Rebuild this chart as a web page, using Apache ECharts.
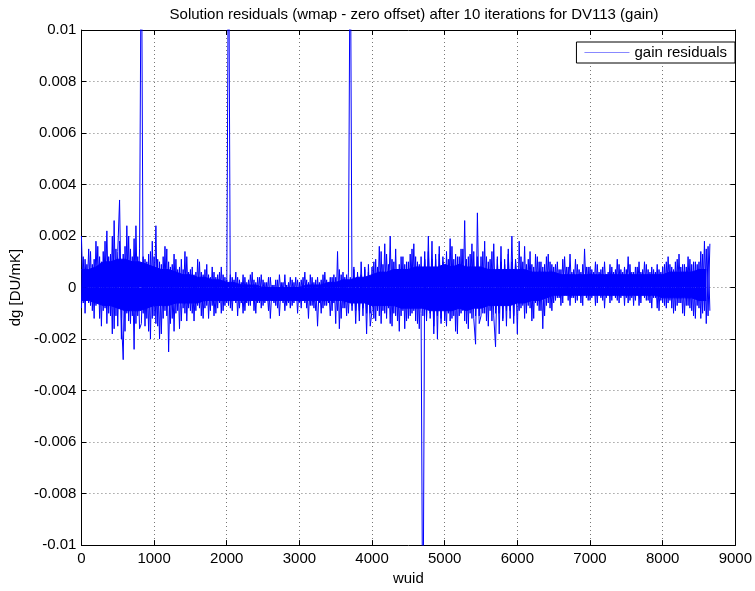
<!DOCTYPE html>
<html>
<head>
<meta charset="utf-8">
<script src="https://cdn.jsdelivr.net/npm/echarts@6/dist/echarts.min.js"></script>
<style>
html,body{margin:0;padding:0;background:#fff;}
#chart{width:755px;height:591px;}
</style>
</head>
<body>
<div id="chart"></div>
<script>
// All y values in units of 1e-4 DU/mK
// Residual excursions per 25-wuid column: set A and set B (opposite phase)
const STEP = 25;
const resA0k = [20,-6,11,-4,15,-7,9,-12,18,-5,12,-15,14,-8,22,-10,13,-18,26,-11,
                14,34,-12,-28,16,-10,20,-14,12,-24,24,-11,15,150,-10,11,-12,13,-20,18];
const resA1k = [-11,24,-15,10,-18,12,-9,15,-25,8,-12,13,-10,7,-16,11,-8,14,-13,6,
                -9,8,-13,6,-7,10,-11,5,-8,9,-12,4,-7,6,-10,5,-6,8,-9,4];
const resA2k = [-6,150,-8,4,-5,6,-11,3,-6,5,-9,2,-7,5,-5,3,-10,4,-6,5,
                -7,2,-5,4,-12,1,-6,3,-8,5,-4,2,-9,1,-6,4,-7,2,-5,3];
const resA3k = [-6,3,-5,6,-8,2,-7,4,-8,3,-15,2,-10,5,-7,3,-6,4,-9,5,
                -14,14,-16,5,-8,4,-11,6,150,-7,8,-9,5,-13,10,-8,7,-18,9,-10];
const resA4k = [8,-12,11,-9,16,-14,9,-10,13,-8,20,-15,10,-11,7,-17,12,-9,9,-13,
                10,-11,15,-9,12,-14,9,-10,-150,11,-12,14,-10,18,-15,11,-20,13,-12,10];
const resA5k = [-13,14,-10,19,-12,11,-17,12,-11,15,-9,26,-14,12,-10,17,-12,-22,29,-11,
                12,-10,18,-13,10,-9,14,-11,-23,11,-10,16,-12,9,-15,13,-9,20,-11,10];
const resA6k = [-18,18,-8,10,-12,9,-7,14,-13,8,-6,12,-9,10,-16,9,-7,13,-8,9,
                -6,9,-4,7,-7,11,-3,8,-5,13,-4,7,-6,9,-3,6,-7,15,-4,8];
const resA7k = [-5,7,-3,10,-6,6,-4,8,-8,5,-3,9,-5,6,-4,11,-6,7,-3,8,
                -4,12,-5,6,-7,8,-3,10,-6,7,-4,9,-5,6,-8,7,-4,9,-9,6];
const resA8k = [-6,9,-8,12,-5,8,-10,10,-7,13,-6,9,-11,8,-7,11,-9,10,-12,9,
                -8,14,-10,18,-14,16,-9];

const resB0k = [-8,12,-10,9,-6,14,-9,11,-7,16,-12,10,-9,18,-14,12,-11,20,-16,15,
                -15,18,-20,13,-17,24,-13,15,-11,19,-14,12,-16,-14,12,-15,10,-17,14,-12];
const resB1k = [12,-14,11,-20,9,-12,16,-11,10,-14,9,-17,11,-9,8,-13,7,-10,12,-8,
                7,-10,5,-9,11,-8,6,-12,7,-7,5,-9,8,-11,4,-8,6,-10,5,-7];
const resB2k = [3,-7,5,-9,3,-6,4,-8,2,-10,4,-6,3,-7,6,-9,2,-6,4,-8,
                3,-6,2,-9,4,-5,1,-7,3,-11,2,-6,5,-7,2,-8,3,-6,4,-10];
const resB3k = [2,-8,4,-6,3,-12,5,-7,2,-9,4,-6,3,-8,6,-7,2,-11,4,-6,
                4,-9,7,-12,6,-8,5,-10,4,-9,7,-14,6,-9,5,-11,8,-10,6,-15];
const resB4k = [-9,10,-13,8,-11,14,-9,17,-12,9,-14,11,-10,15,-13,9,-11,12,-16,10,
                -12,13,-10,17,-13,10,-16,12,-11,14,-13,20,-12,11,-18,13,-11,16,-14,12];
const resB5k = [12,-15,11,-13,16,-11,13,-18,12,-10,15,-13,11,-16,13,-12,14,-11,12,-14,
                -11,14,-10,12,-15,11,-13,17,-10,12,-18,10,-13,11,-9,15,-12,10,-14,11];
const resB6k = [11,-9,12,-7,16,-10,11,-8,9,-12,13,-7,10,-9,8,-11,12,-6,10,-9,
                8,-5,10,-4,7,-6,12,-3,8,-7,6,-4,11,-5,7,-6,9,-3,8,-5];
const resB7k = [8,-4,6,-7,9,-3,7,-5,10,-4,6,-6,8,-3,7,-5,9,-4,6,-7,
                7,-6,9,-4,6,-5,8,-7,6,-3,10,-5,7,-6,8,-4,6,-8,7,-5];
const resB8k = [8,-7,10,-6,9,-8,7,-9,11,-6,8,-10,9,-7,12,-8,9,-11,10,-7,
                10,-12,13,-9,15,-11,17];

// Solid core of the residual band (upper / lower edge), every 100 wuid
const CORE_STEP = 100;
const coreHi = [7,7,8,10,10,11,11,10,10,9,
                8,7,7,6,5,5,4,4,3,3,
                2,2,1,1,1,0,0,0,0,0,
                0,1,1,1,2,2,3,3,4,4,
                5,6,6,7,7,7,8,8,8,8,
                9,8,9,8,8,8,7,7,7,7,
                7,7,6,6,6,6,5,5,5,5,
                5,5,5,5,5,5,5,5,5,5,
                5,6,6,6,6,7,7];
const coreLo = [-5,-5,-6,-7,-7,-8,-9,-9,-9,-8,
                -7,-7,-7,-6,-6,-6,-6,-5,-5,-5,
                -5,-5,-5,-5,-5,-5,-5,-5,-5,-5,
                -5,-5,-5,-5,-5,-5,-5,-6,-6,-6,
                -7,-7,-7,-7,-8,-8,-8,-8,-9,-9,
                -9,-9,-8,-9,-8,-8,-7,-7,-7,-7,
                -6,-6,-5,-5,-4,-3,-3,-3,-3,-3,
                -3,-3,-3,-3,-3,-3,-3,-3,-3,-3,
                -4,-4,-4,-4,-4,-5,-5];

const titleText = 'Solution residuals (wmap - zero offset) after 10 iterations for DV113 (gain)';
const seriesName = 'gain residuals';
const xName = 'wuid';
const yName = 'dg [DU/mK]';
const xTicks = [0,1000,2000,3000,4000,5000,6000,7000,8000,9000];
const yTicks = [-100,-80,-60,-40,-20,0,20,40,60,80,100];

const setA = [].concat(resA0k,resA1k,resA2k,resA3k,resA4k,resA5k,resA6k,resA7k,resA8k);
const setB = [].concat(resB0k,resB1k,resB2k,resB3k,resB4k,resB5k,resB6k,resB7k,resB8k);
const dataA = setA.map((v,i)=>[i*STEP, v]);
const dataB = setB.map((v,i)=>[i*STEP, v]);
const hiData = coreHi.map((v,i)=>[i*CORE_STEP, v]);
const loData = coreLo.map((v,i)=>[i*CORE_STEP, v]);

const font = 'Liberation Sans, Arial, Helvetica, sans-serif';
const FS = 15;
const chart = echarts.init(document.getElementById('chart'), null, {renderer:'canvas'});

const baseX = {
  type:'value', min:xTicks[0], max:xTicks[xTicks.length-1], interval:1000,
  axisLine:{show:true, onZero:false, lineStyle:{color:'#000', width:1}},
  axisTick:{show:true, inside:true, length:5, lineStyle:{color:'#000'}},
};
const baseY = {
  type:'value', min:yTicks[0], max:yTicks[yTicks.length-1], interval:20,
  axisLine:{show:true, onZero:false, lineStyle:{color:'#000', width:1}},
  axisTick:{show:true, inside:true, length:5, lineStyle:{color:'#000'}},
};
const blue = '#0000ff';
const lineCommon = {type:'line', symbol:'none', showSymbol:false, clip:true,
  emphasis:{disabled:true}, silent:true};

chart.setOption({
  animation:false,
  backgroundColor:'#fff',
  textStyle:{fontFamily:font},
  title:{
    text:titleText, left:409, top:2, textAlign:'center',
    textStyle:{fontSize:FS, fontWeight:'normal', color:'#000', fontFamily:font}
  },
  grid:{left:80, top:30, right:17, bottom:42, containLabel:false},
  legend:{
    data:[{name:seriesName, icon:'rect', itemStyle:{color:'#8888ff'}}],
    right:20, top:42, orient:'vertical',
    backgroundColor:'#fff', borderColor:'#000', borderWidth:1, borderRadius:0,
    padding:[3,8,3,8], itemWidth:45, itemHeight:1, itemGap:4,
    textStyle:{fontSize:FS, color:'#000', fontFamily:font}
  },
  xAxis:[
    Object.assign({}, baseX, {
      position:'bottom',
      name:xName, nameLocation:'middle', nameGap:23,
      nameTextStyle:{fontSize:FS, color:'#000', fontFamily:font},
      axisLabel:{show:true, margin:6, color:'#000', fontSize:FS, fontFamily:font,
        formatter:(v)=>String(v)},
      splitLine:{show:true, lineStyle:{color:'#777', type:[1,3], width:1}}
    }),
    Object.assign({}, baseX, {
      position:'top', axisLabel:{show:false}, splitLine:{show:false}
    })
  ],
  yAxis:[
    Object.assign({}, baseY, {
      position:'left',
      name:yName, nameLocation:'middle', nameGap:52, nameRotate:90,
      nameTextStyle:{fontSize:FS, color:'#000', fontFamily:font},
      axisLabel:{show:true, margin:5, color:'#000', fontSize:FS, fontFamily:font,
        formatter:(v)=>String(v/10000)},
      splitLine:{show:true, lineStyle:{color:'#777', type:[1,3], width:1}}
    }),
    Object.assign({}, baseY, {
      position:'right', axisLabel:{show:false}, splitLine:{show:false}
    })
  ],
  series:[
    Object.assign({}, lineCommon, {
      name:'core upper', data:hiData,
      lineStyle:{color:blue, width:1}, areaStyle:{color:blue, opacity:1}, z:2
    }),
    Object.assign({}, lineCommon, {
      name:'core lower', data:loData,
      lineStyle:{color:blue, width:1}, areaStyle:{color:blue, opacity:1}, z:2
    }),
    Object.assign({}, lineCommon, {
      name:seriesName + ' ', data:dataB,
      lineStyle:{color:blue, width:1}, z:3
    }),
    Object.assign({}, lineCommon, {
      name:seriesName, data:dataA,
      lineStyle:{color:blue, width:1}, itemStyle:{color:blue}, z:3
    })
  ]
});
</script>
</body>
</html>
